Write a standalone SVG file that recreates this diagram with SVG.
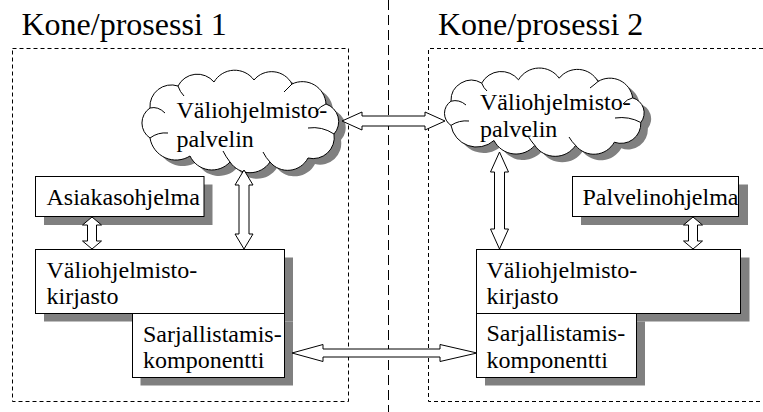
<svg xmlns="http://www.w3.org/2000/svg" width="763" height="412" viewBox="0 0 763 412">
<style>
.box{fill:#fff;stroke:#000;stroke-width:1}
.shadow{fill:#808080;stroke:none}
.cloud{fill:#fff;stroke:#000;stroke-width:1}
.inner{fill:none;stroke:#000;stroke-width:1}
.t{font-family:"Liberation Serif","Times New Roman",serif;font-size:24px;fill:#000}
.title{font-size:32px}
.dash{fill:none;stroke:#000;stroke-width:1;stroke-dasharray:4 3}
.sep{fill:none;stroke:#000;stroke-width:1;stroke-dasharray:10 5}
.arrow{fill:#fff;stroke:#000;stroke-width:1;stroke-linejoin:miter}
</style>
<rect width="763" height="412" fill="#fff"/>

<g id="separator">
<line class="sep" x1="388.5" y1="0" x2="388.5" y2="412"/>
</g>

<g id="process1">
<text class="t title" x="21.5" y="35">Kone/prosessi 1</text>
<rect class="dash" x="12.5" y="48.5" width="336" height="353"/>
</g>

<g id="process2">
<text class="t title" x="438" y="35">Kone/prosessi 2</text>
<path class="dash" d="M770,48.5 H428.5 V401.5 H770"/>
</g>

<g id="cloud1">
<path class="shadow" transform="translate(7,6)" d="M150,108 A21.4,21.4 0 0 1 178,86 A21.7,21.7 0 0 1 214,82 A24,24 0 0 1 254,80 A22.9,22.9 0 0 1 292,84 A23.7,23.7 0 0 1 326,104 A18.6,18.6 0 0 1 334,134 A21.2,21.2 0 0 1 308,158 A22.9,22.9 0 0 1 270,162 A24,24 0 0 1 230,162 A24.3,24.3 0 0 1 190,156 A26.3,26.3 0 0 1 150,138 A18,18 0 0 1 150,108 Z"/>
<path class="cloud" d="M150,108 A21.4,21.4 0 0 1 178,86 A21.7,21.7 0 0 1 214,82 A24,24 0 0 1 254,80 A22.9,22.9 0 0 1 292,84 A23.7,23.7 0 0 1 326,104 A18.6,18.6 0 0 1 334,134 A21.2,21.2 0 0 1 308,158 A22.9,22.9 0 0 1 270,162 A24,24 0 0 1 230,162 A24.3,24.3 0 0 1 190,156 A26.3,26.3 0 0 1 150,138 A18,18 0 0 1 150,108 Z"/>
<path class="inner" d="M150,108 Q158,106 165,113 M150,138 Q158,132 168,133 M178,86 Q180,92 184,96 M292,84 Q288,88 284,92 M326,104 Q320,106 316,112 M334,134 Q322,126 308,128 M270,162 Q266,158 263,152 M230,162 Q226,157 223,151"/>
<text class="t" x="176.5" y="118">Väliohjelmisto-</text>
<text class="t" x="176.5" y="146.5">palvelin</text>
</g>

<g id="cloud2">
<path class="shadow" transform="translate(7,6)" d="M451,101.2 A20.3,20.3 0 0 1 481.7,83.1 A22.2,22.2 0 0 1 518.5,79.8 A24.4,24.4 0 0 1 559.2,78.2 A23.4,23.4 0 0 1 598,81.5 A23,23 0 0 1 632.7,97.9 A15.5,15.5 0 0 1 640.8,122.5 A19.8,19.8 0 0 1 614.3,142.2 A23.3,23.3 0 0 1 575.6,145.4 A24.5,24.5 0 0 1 534.8,145.4 A24.7,24.7 0 0 1 494,140.5 A26.1,26.1 0 0 1 451,125.4 A14.5,14.5 0 0 1 451,101.2 Z"/>
<path class="cloud" d="M451,101.2 A20.3,20.3 0 0 1 481.7,83.1 A22.2,22.2 0 0 1 518.5,79.8 A24.4,24.4 0 0 1 559.2,78.2 A23.4,23.4 0 0 1 598,81.5 A23,23 0 0 1 632.7,97.9 A15.5,15.5 0 0 1 640.8,122.5 A19.8,19.8 0 0 1 614.3,142.2 A23.3,23.3 0 0 1 575.6,145.4 A24.5,24.5 0 0 1 534.8,145.4 A24.7,24.7 0 0 1 494,140.5 A26.1,26.1 0 0 1 451,125.4 A14.5,14.5 0 0 1 451,101.2 Z"/>
<path class="inner" d="M451,101.2 Q459,99 466,105 M451,125.4 Q459,120 469,121 M481.7,83.1 Q483.5,88 487,91 M598,81.5 Q594,85 590,88 M632.7,97.9 Q627,99 623,104 M640.8,122.5 Q629,116 615,118 M575.6,145.4 Q572,142 569,137 M534.8,145.4 Q531,141 528,136"/>
<text class="t" x="480" y="110">Väliohjelmisto-</text>
<text class="t" x="480" y="136.5">palvelin</text>
</g>

<g id="asiakasohjelma">
<rect class="shadow" x="44" y="184.5" width="168.5" height="40.5"/>
<rect class="box" x="35.5" y="176.5" width="168.5" height="40"/>
<text class="t" x="46.5" y="205">Asiakasohjelma</text>
</g>

<g id="palvelinohjelma">
<rect class="shadow" x="581" y="184.5" width="167" height="40.5"/>
<rect class="box" x="572.5" y="176.5" width="166" height="40"/>
<text class="t" x="582.5" y="205">Palvelinohjelma</text>
</g>

<g id="kirjasto1">
<rect class="shadow" x="44" y="257.5" width="249" height="64"/>
<rect class="box" x="35.5" y="249.5" width="249" height="64"/>
<text class="t" x="46.5" y="278">Väliohjelmisto-</text>
<text class="t" x="46.5" y="303.5">kirjasto</text>
</g>

<g id="sarjallistamis1">
<rect class="shadow" x="140.5" y="321.5" width="152.5" height="64"/>
<rect class="box" x="132.5" y="313.5" width="152" height="64"/>
<text class="t" x="143" y="341.5">Sarjallistamis-</text>
<text class="t" x="143" y="368">komponentti</text>
</g>

<g id="kirjasto2">
<rect class="shadow" x="485" y="257.5" width="264.5" height="64"/>
<rect class="box" x="476.5" y="249.5" width="264" height="64"/>
<text class="t" x="486.5" y="278">Väliohjelmisto-</text>
<text class="t" x="486.5" y="303.5">kirjasto</text>
</g>

<g id="sarjallistamis2">
<rect class="shadow" x="485" y="321.5" width="160" height="64"/>
<rect class="box" x="476.5" y="313.5" width="160" height="64"/>
<text class="t" x="486.5" y="341">Sarjallistamis-</text>
<text class="t" x="486.5" y="368">komponentti</text>
</g>

<g id="connectors">
<polygon class="arrow" points="92,217 101.5,225 96.5,225 96.5,241 101.5,241 92,249 82.5,241 87.5,241 87.5,225 82.5,225"/>
<polygon class="arrow" points="244,170 253,185 249,185 249,234 253,234 244,249 235,234 239,234 239,185 235,185"/>
<polygon class="arrow" points="499.5,152 508.5,172 504.5,172 504.5,229 508.5,229 499.5,249 490.5,229 494.5,229 494.5,172 490.5,172"/>
<polygon class="arrow" points="693,217 702.5,225 697.5,225 697.5,241 702.5,241 693,249 683.5,241 688.5,241 688.5,225 683.5,225"/>
<polygon class="arrow" points="342,121 362,112 362,116 425,116 425,112 445,121 425,130 425,126 362,126 362,130"/>
<polygon class="arrow" points="292,353 323,344.5 323,349 440,349 440,344.5 477,353 440,361.5 440,357 323,357 323,361.5"/>
</g>
</svg>
